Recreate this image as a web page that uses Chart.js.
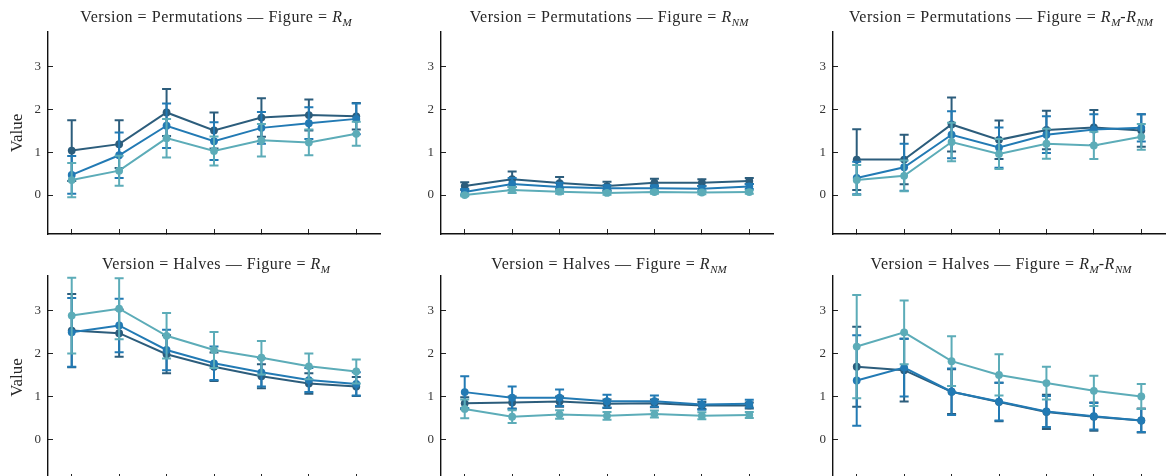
<!DOCTYPE html>
<html lang="en">
<head>
<meta charset="UTF-8">
<title>Version x Figure</title>
<script src="https://cdn.jsdelivr.net/npm/chart.js@4"></script>
<style>
  body { margin: 0; width: 1169px; height: 476px; overflow: hidden; background: #fff; position: relative;
         font-family: "Liberation Serif", "DejaVu Serif", serif; color: #262626; }
  .panel { position: absolute; width: 384px; height: 240px; }
  .ttl { position: absolute; left: 48px; width: 336px; text-align: center; font-size: 16px;
         letter-spacing: 0.55px; line-height: 20px; white-space: nowrap; }
  .ttl sub { font-size: 11px; font-style: italic; line-height: 0; letter-spacing: 0; }
</style>
</head>
<body>

<div class="panel" style="left:0;top:0"><canvas id="c1" width="384" height="240"></canvas>
  <div class="ttl" style="top:7px">Version = Permutations — Figure = <i>R</i><sub>M</sub></div></div>
<div class="panel" style="left:393px;top:0"><canvas id="c2" width="384" height="240"></canvas>
  <div class="ttl" style="top:7px">Version = Permutations — Figure = <i>R</i><sub>NM</sub></div></div>
<div class="panel" style="left:785px;top:0"><canvas id="c3" width="384" height="240"></canvas>
  <div class="ttl" style="top:7px">Version = Permutations — Figure = <i>R</i><sub>M</sub>-<i>R</i><sub>NM</sub></div></div>
<div class="panel" style="left:0;top:245px"><canvas id="c4" width="384" height="240"></canvas>
  <div class="ttl" style="top:9px">Version = Halves — Figure = <i>R</i><sub>M</sub></div></div>
<div class="panel" style="left:393px;top:245px"><canvas id="c5" width="384" height="240"></canvas>
  <div class="ttl" style="top:9px">Version = Halves — Figure = <i>R</i><sub>NM</sub></div></div>
<div class="panel" style="left:785px;top:245px"><canvas id="c6" width="384" height="240"></canvas>
  <div class="ttl" style="top:9px">Version = Halves — Figure = <i>R</i><sub>M</sub>-<i>R</i><sub>NM</sub></div></div>

<script>
// categories on the x axis (labels are not shown in the figure)
const categories = [1, 2, 3, 4, 5, 6, 7];
const yTicks = [0, 1, 2, 3];
const colors = ['#2c5d7c', '#227ab4', '#5cacb8'];

// Version = Permutations, Figure = R_M
const permRM_a = [1.04, 1.19, 1.93, 1.51, 1.81, 1.87, 1.84];
const permRM_a_err = [0.71, 0.56, 0.55, 0.42, 0.45, 0.36, 0.31];
const permRM_b = [0.47, 0.93, 1.62, 1.26, 1.57, 1.68, 1.78];
const permRM_b_err = [0.44, 0.53, 0.52, 0.44, 0.37, 0.37, 0.36];
const permRM_c = [0.35, 0.57, 1.33, 1.03, 1.28, 1.23, 1.43];
const permRM_c_err = [0.40, 0.35, 0.45, 0.34, 0.38, 0.30, 0.28];

// Version = Permutations, Figure = R_NM
const permRNM_a = [0.21, 0.37, 0.28, 0.21, 0.29, 0.29, 0.33];
const permRNM_a_err = [0.09, 0.18, 0.14, 0.10, 0.09, 0.08, 0.07];
const permRNM_b = [0.07, 0.26, 0.19, 0.16, 0.16, 0.15, 0.20];
const permRNM_b_err = [0.07, 0.14, 0.10, 0.07, 0.07, 0.06, 0.06];
const permRNM_c = [0.00, 0.12, 0.08, 0.05, 0.07, 0.06, 0.07];
const permRNM_c_err = [0.03, 0.07, 0.05, 0.04, 0.04, 0.04, 0.04];

// Version = Permutations, Figure = R_M-R_NM
const permDiff_a = [0.83, 0.83, 1.65, 1.29, 1.52, 1.58, 1.51];
const permDiff_a_err = [0.71, 0.58, 0.63, 0.45, 0.45, 0.41, 0.38];
const permDiff_b = [0.40, 0.65, 1.41, 1.11, 1.41, 1.53, 1.57];
const permDiff_b_err = [0.38, 0.55, 0.55, 0.47, 0.43, 0.36, 0.32];
const permDiff_c = [0.35, 0.45, 1.24, 0.96, 1.20, 1.16, 1.36];
const permDiff_c_err = [0.35, 0.36, 0.45, 0.35, 0.35, 0.32, 0.30];

// Version = Halves, Figure = R_M
const halvRM_a = [2.54, 2.48, 1.99, 1.70, 1.48, 1.31, 1.24];
const halvRM_a_err = [0.85, 0.55, 0.44, 0.33, 0.28, 0.24, 0.22];
const halvRM_b = [2.50, 2.66, 2.09, 1.78, 1.57, 1.39, 1.30];
const halvRM_b_err = [0.80, 0.62, 0.47, 0.39, 0.33, 0.28, 0.27];
const halvRM_c = [2.89, 3.05, 2.42, 2.09, 1.91, 1.71, 1.59];
const halvRM_c_err = [0.88, 0.71, 0.53, 0.42, 0.39, 0.30, 0.28];

// Version = Halves, Figure = R_NM
const halvRNM_a = [0.85, 0.87, 0.89, 0.84, 0.85, 0.80, 0.80];
const halvRNM_a_err = [0.14, 0.14, 0.12, 0.10, 0.09, 0.08, 0.07];
const halvRNM_b = [1.11, 0.98, 0.98, 0.90, 0.90, 0.82, 0.84];
const halvRNM_b_err = [0.37, 0.26, 0.19, 0.15, 0.13, 0.12, 0.09];
const halvRNM_c = [0.72, 0.54, 0.59, 0.56, 0.60, 0.56, 0.58];
const halvRNM_c_err = [0.22, 0.15, 0.10, 0.09, 0.08, 0.08, 0.07];

// Version = Halves, Figure = R_M-R_NM
const halvDiff_a = [1.70, 1.62, 1.12, 0.88, 0.65, 0.54, 0.45];
const halvDiff_a_err = [0.93, 0.73, 0.52, 0.45, 0.40, 0.33, 0.28];
const halvDiff_b = [1.38, 1.68, 1.12, 0.89, 0.66, 0.55, 0.45];
const halvDiff_b_err = [1.05, 0.67, 0.54, 0.44, 0.36, 0.31, 0.27];
const halvDiff_c = [2.17, 2.50, 1.83, 1.51, 1.32, 1.14, 1.01];
const halvDiff_c_err = [1.20, 0.74, 0.58, 0.48, 0.38, 0.35, 0.29];

// draws the error bars of each dataset just before the line, clipped to the plot
const errorBars = {
    id: 'errorBars',
    beforeDatasetDraw(chart, args) {
        const ds = chart.data.datasets[args.index];
        if (!ds.errors) return;
        const y = chart.scales.y;
        const ctx = chart.ctx;
        const a = chart.chartArea;
        ctx.save();
        ctx.beginPath();
        ctx.rect(a.left, a.top, a.right - a.left, a.bottom - a.top);
        ctx.clip();
        ctx.strokeStyle = ds.borderColor;
        ctx.lineWidth = 2;
        args.meta.data.forEach(function (pt, i) {
            const top = y.getPixelForValue(ds.data[i] + ds.errors[i]);
            const bot = y.getPixelForValue(ds.data[i] - ds.errors[i]);
            ctx.beginPath();
            ctx.moveTo(pt.x, top); ctx.lineTo(pt.x, bot);
            ctx.moveTo(pt.x - 4.5, top); ctx.lineTo(pt.x + 4.5, top);
            ctx.moveTo(pt.x - 4.5, bot); ctx.lineTo(pt.x + 4.5, bot);
            ctx.stroke();
        });
        ctx.restore();
    }
};

// no extra room for half tick labels, the axes sit exactly where the figure has them
function noPad(s) {
    s.paddingTop = 0; s.paddingBottom = 0; s.paddingLeft = 0; s.paddingRight = 0;
}

function makeChart(id, series, errs, showYTitle, padTop) {
    const datasets = series.map(function (vals, i) {
        return {
            data: vals,
            errors: errs[i],
            borderColor: colors[i],
            backgroundColor: colors[i],
            pointBackgroundColor: colors[i],
            borderWidth: 2,
            pointRadius: 3.9,
            pointBorderWidth: 0,
            tension: 0,
            order: 3 - i
        };
    });
    return new Chart(document.getElementById(id), {
        type: 'line',
        data: { labels: categories, datasets: datasets },
        options: {
            responsive: false,
            animation: false,
            layout: { padding: { top: padTop, left: 0, right: 0, bottom: 0 } },
            plugins: { legend: { display: false }, tooltip: { enabled: false } },
            scales: {
                x: {
                    offset: true,
                    grid: { display: true, drawOnChartArea: false, offset: false, tickLength: -5, color: '#222', lineWidth: 1 },
                    border: { display: true, color: '#111', width: 1.4 },
                    ticks: { display: false },
                    afterFit: function (s) { s.height = 6; noPad(s); }
                },
                y: {
                    min: -0.91,
                    max: 3.81,
                    afterBuildTicks: function (s) { s.ticks = yTicks.map(v => ({ value: v })); },
                    afterFit: function (s) { s.width = 48; noPad(s); },
                    grid: { display: true, drawOnChartArea: false, tickLength: -5, color: '#222', lineWidth: 1 },
                    border: { display: true, color: '#111', width: 1.4 },
                    ticks: { padding: 12, color: '#333', font: { family: 'Liberation Serif', size: 13 } },
                    title: {
                        display: showYTitle, text: 'Value', color: '#262626',
                        font: { family: 'Liberation Serif', size: 17 }, padding: { top: 7, bottom: 0 }
                    }
                }
            }
        },
        plugins: [errorBars]
    });
}

makeChart('c1', [permRM_a, permRM_b, permRM_c], [permRM_a_err, permRM_b_err, permRM_c_err], true, 32);
makeChart('c2', [permRNM_a, permRNM_b, permRNM_c], [permRNM_a_err, permRNM_b_err, permRNM_c_err], false, 32);
makeChart('c3', [permDiff_a, permDiff_b, permDiff_c], [permDiff_a_err, permDiff_b_err, permDiff_c_err], false, 32);
makeChart('c4', [halvRM_a, halvRM_b, halvRM_c], [halvRM_a_err, halvRM_b_err, halvRM_c_err], true, 31);
makeChart('c5', [halvRNM_a, halvRNM_b, halvRNM_c], [halvRNM_a_err, halvRNM_b_err, halvRNM_c_err], false, 31);
makeChart('c6', [halvDiff_a, halvDiff_b, halvDiff_c], [halvDiff_a_err, halvDiff_b_err, halvDiff_c_err], false, 31);
</script>
</body>
</html>
